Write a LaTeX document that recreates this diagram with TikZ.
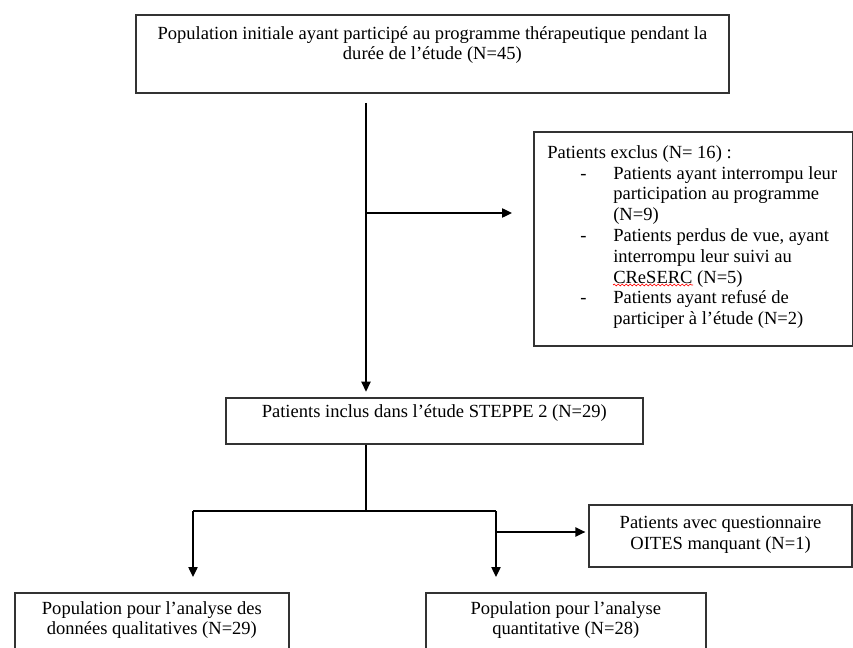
\documentclass[tikz,border=0pt]{standalone}
\usepackage{fontspec}
\setmainfont{Liberation Serif}
\usetikzlibrary{positioning,calc,arrows,arrows.meta,decorations.pathmorphing}

\tikzset{
	cadre/.style={draw=black!80, line width=1.25pt, inner sep=0pt, anchor=north west},
	texte/.style={inner sep=0pt, align=center, font=\fontsize{13.9pt}{15.6pt}\selectfont},
	fleche/.style={line width=1pt, -{Triangle[length=7.5pt,width=7pt]}},
	trait/.style={line width=1pt}
}

\begin{document}
\begin{tikzpicture}[x=0.75pt,y=-0.75pt]
		\clip (0,0) rectangle (853,648);
		\node[cadre, minimum width=444.75pt, minimum height=58.5pt] (pop) at (135,14) {};
		\node[texte, below=9pt of pop.north] (poptxt) {Population initiale ayant participé au programme thérapeutique pendant la\\durée de l’étude (N=45)};
		\node[cadre, minimum width=238.9pt, minimum height=160.5pt] (excl) at (533,131) {};
		\node[texte, align=left, below right=9.4pt and 10.5pt of excl.north west] (excltxt) {%
			\begin{tabular}{@{}p{24.75pt}@{}p{24.75pt}@{}l@{}}
				\multicolumn{3}{@{}l@{}}{Patients exclus (N= 16) :}\\
				& - & Patients ayant interrompu leur\\
				& & participation au programme\\
				& & (N=9)\\
				& - & Patients perdus de vue, ayant\\
				& & interrompu leur suivi au\\
				& & CReSERC (N=5)\\
				& - & Patients ayant refusé de\\
				& & participer à l’étude (N=2)
			\end{tabular}};
		\draw[red, line width=0.5pt, decorate, decoration={snake, amplitude=0.7pt, segment length=3pt}] (613,285) -- (693,285);
		\node[cadre, minimum width=312.75pt, minimum height=34.5pt] (incl) at (225,397) {};
		\node[texte, below=5.6pt of incl.north] (incltxt) {Patients inclus dans l’étude STEPPE 2 (N=29)};
		\node[cadre, minimum width=197.6pt, minimum height=46.5pt] (oites) at (588,504) {};
		\node[texte, below=9pt of oites.north] (oitestxt) {Patients avec questionnaire\\OITES manquant (N=1)};
		\node[cadre, minimum width=205.5pt, minimum height=60pt] (qual) at (14,592) {};
		\node[texte, below=6.75pt of qual.north] (qualtxt) {Population pour l’analyse des\\données qualitatives (N=29)};
		\node[cadre, minimum width=210pt, minimum height=60pt] (quant) at (425,592) {};
		\node[texte, below=6.75pt of quant.north] (quanttxt) {Population pour l’analyse\\quantitative (N=28)};

		\coordinate (depart) at (366,103);
		\coordinate (sortie) at (366,213);
		\coordinate (branche) at (366,511);
		\coordinate (gauche) at (193,511);
		\coordinate (droite) at (496,511);
		\coordinate (manque) at (496,532);

		\draw[fleche, shorten >=4pt] (depart) -- (depart |- incl.north);
		\draw[fleche, shorten >=15.75pt] (sortie) -- (sortie -| excl.west);
		\draw[trait] (branche |- incl.south) -- (branche);
		\draw[trait] (gauche) -- (droite);
		\draw[fleche, shorten >=11.25pt] (gauche) -- (gauche |- qual.north);
		\draw[fleche, shorten >=11.25pt] (droite) -- (droite |- quant.north);
		\draw[fleche, shorten >=2pt] (manque) -- (manque -| oites.west);
	\end{tikzpicture}
\end{document}
